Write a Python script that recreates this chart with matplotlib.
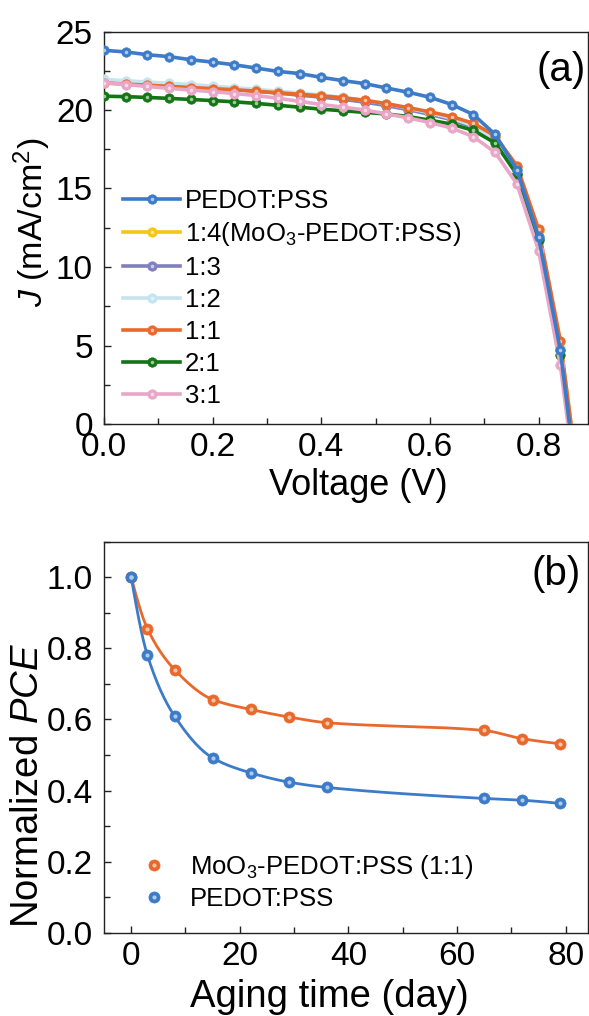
import numpy as np
import matplotlib
matplotlib.use("Agg")
import matplotlib.pyplot as plt
from matplotlib.ticker import MultipleLocator
from matplotlib.legend_handler import HandlerTuple

plt.rcParams['font.family'] = ['Liberation Sans', 'DejaVu Sans']
plt.rcParams['mathtext.fontset'] = 'custom'
plt.rcParams['mathtext.rm'] = 'Liberation Sans'
plt.rcParams['mathtext.it'] = 'Liberation Sans:italic'
plt.rcParams['mathtext.bf'] = 'Liberation Sans:bold'

# ---------------- data (a) ----------------
voltage = [0.00, 0.04, 0.08, 0.12, 0.16, 0.20, 0.24, 0.28, 0.32, 0.36, 0.40, 0.44,
           0.48, 0.52, 0.56, 0.60, 0.64, 0.68, 0.72, 0.76, 0.80, 0.84, 0.88]
j_pedot = [23.80, 23.70, 23.52, 23.40, 23.20, 23.05, 22.88, 22.67, 22.46, 22.32, 22.08, 21.87,
           21.68, 21.40, 21.13, 20.81, 20.35, 19.71, 18.44, 16.20, 11.90, 4.70, -6.5]
j_14 = [21.80, 21.72, 21.64, 21.56, 21.48, 21.39, 21.30, 21.20, 21.08, 20.96, 20.84, 20.70,
        20.54, 20.32, 20.08, 19.80, 19.48, 19.02, 18.20, 16.30, 12.30, 5.20, -5.3]
j_13 = [21.85, 21.77, 21.68, 21.60, 21.50, 21.40, 21.30, 21.20, 21.08, 20.95, 20.82, 20.68,
        20.50, 20.28, 20.02, 19.72, 19.38, 18.90, 18.00, 15.90, 11.80, 4.70, -6.2]
j_12 = [21.95, 21.86, 21.78, 21.70, 21.62, 21.52, 21.42, 21.32, 21.20, 21.08, 20.95, 20.80,
        20.62, 20.40, 20.12, 19.82, 19.48, 19.00, 18.10, 16.10, 12.00, 4.90, -6.0]
j_11 = [21.72, 21.65, 21.58, 21.50, 21.43, 21.36, 21.29, 21.20, 21.10, 21.00, 20.90, 20.78,
        20.62, 20.40, 20.15, 19.88, 19.58, 19.15, 18.35, 16.45, 12.40, 5.30, -5.5]
j_21 = [20.88, 20.85, 20.80, 20.74, 20.67, 20.60, 20.52, 20.42, 20.30, 20.18, 20.05, 19.95,
        19.85, 19.75, 19.58, 19.35, 19.10, 18.70, 17.90, 15.90, 11.70, 4.40, -6.5]
j_31 = [21.75, 21.62, 21.50, 21.38, 21.27, 21.17, 21.05, 20.92, 20.75, 20.55, 20.35, 20.18,
        20.00, 19.75, 19.50, 19.20, 18.85, 18.30, 17.30, 15.30, 11.05, 3.75, -7.0]

labels_a = ['PEDOT:PSS', r'1:4(MoO$_3$-PEDOT:PSS)', '1:3', '1:2', '1:1', '2:1', '3:1']
series_a = [j_pedot, j_14, j_13, j_12, j_11, j_21, j_31]
colors_a = ['#3C7BC8', '#F5C518', '#8080C0', '#C4E4F0', '#E9692C', '#137513', '#EAA6C6']
zorders_a = [10, 3, 4, 5, 6, 7, 8]

# ---------------- data (b) ----------------
days = [0, 3, 8, 15, 22, 29, 36, 65, 72, 79]
pce_moo3 = [1.0, 0.855, 0.740, 0.656, 0.628, 0.607, 0.591, 0.569, 0.546, 0.532]
pce_pedot = [1.0, 0.780, 0.609, 0.492, 0.450, 0.424, 0.409, 0.378, 0.373, 0.364]
labels_b = [r'MoO$_3$-PEDOT:PSS (1:1)', 'PEDOT:PSS']
colors_b = ['#E9692C', '#3C7BC8']


def lighten(c, f=0.55):
    rgb = np.array(matplotlib.colors.to_rgb(c))
    return tuple(rgb + (1 - rgb) * f)


def pchip(x, y, xn):
    x = np.asarray(x, float); y = np.asarray(y, float)
    h = np.diff(x); d = np.diff(y) / h
    n = len(x); m = np.zeros(n)
    for k in range(1, n - 1):
        if d[k - 1] * d[k] > 0:
            w1 = 2 * h[k] + h[k - 1]; w2 = h[k] + 2 * h[k - 1]
            m[k] = (w1 + w2) / (w1 / d[k - 1] + w2 / d[k])
    m0 = ((2 * h[0] + h[1]) * d[0] - h[0] * d[1]) / (h[0] + h[1])
    if np.sign(m0) != np.sign(d[0]):
        m0 = 0
    m[0] = m0
    me = ((2 * h[-1] + h[-2]) * d[-1] - h[-1] * d[-2]) / (h[-1] + h[-2])
    if np.sign(me) != np.sign(d[-1]):
        me = 0
    m[-1] = me
    idx = np.clip(np.searchsorted(x, xn) - 1, 0, n - 2)
    t = (xn - x[idx]) / h[idx]
    h00 = 2 * t**3 - 3 * t**2 + 1; h10 = t**3 - 2 * t**2 + t
    h01 = -2 * t**3 + 3 * t**2; h11 = t**3 - t**2
    return h00 * y[idx] + h10 * h[idx] * m[idx] + h01 * y[idx + 1] + h11 * h[idx] * m[idx + 1]


W, H = 589, 1016
fig = plt.figure(figsize=(W / 100, H / 100), dpi=100)

TICK_FS = 24
LEG_FS = 18.5
PANEL_FS = 29


def style_axes(ax):
    for s in ax.spines.values():
        s.set_linewidth(1.0)
        s.set_color('#222222')
    ax.tick_params(which='both', direction='in', top=False, right=False,
                   labelsize=TICK_FS, width=1.0, color='#222222')
    ax.tick_params(axis='x', pad=6)
    ax.tick_params(axis='y', pad=8)
    ax.tick_params(which='major', length=5)
    ax.tick_params(which='minor', length=4)


# ---------------- panel (a) ----------------
ax1 = fig.add_axes([104 / W, 592 / H, 483.5 / W, 392.5 / H])
handles = []
for ys, lab, c, z in zip(series_a, labels_a, colors_a, zorders_a):
    ln, = ax1.plot(voltage, ys, '-o', color=c, lw=2.6, ms=6.8, mec=c, mew=0.5,
                   zorder=z, clip_on=True)
    hl, = ax1.plot(voltage, ys, 'o', color=lighten(c, 0.6), ms=2.6, mew=0,
                   zorder=z + 0.5)
    handles.append((ln, hl))
ax1.set_xlim(0, 0.89)
ax1.set_ylim(0, 25)
ax1.xaxis.set_major_locator(MultipleLocator(0.2))
ax1.xaxis.set_minor_locator(MultipleLocator(0.1))
ax1.yaxis.set_major_locator(MultipleLocator(5))
ax1.yaxis.set_minor_locator(MultipleLocator(2.5))
ax1.xaxis.set_major_formatter(matplotlib.ticker.FormatStrFormatter('%.1f'))
style_axes(ax1)
ax1.set_xlabel('Voltage (V)', fontsize=26)
ax1.xaxis.set_label_coords(0.525, -0.113)
ax1.set_ylabel(r'$\mathit{J}$ (mA/cm$^2$)', fontsize=24.5)
ax1.yaxis.set_label_coords(-0.105, 0.515)
ax1.text(0.946, 0.902, '(a)', transform=ax1.transAxes, fontsize=PANEL_FS,
         ha='center', va='center')
ax1.legend(handles, labels_a, handler_map={tuple: HandlerTuple(ndivide=1)},
           loc='upper left', bbox_to_anchor=(0.04, 0.60), frameon=False,
           fontsize=LEG_FS, handlelength=2.2, handletextpad=0.2,
           labelspacing=0.31, borderpad=0, borderaxespad=0, numpoints=1)

# ---------------- panel (b) ----------------
ax2 = fig.add_axes([104 / W, 83 / H, 483.5 / W, 391.5 / H])
hb = []
for ys, lab, c in zip([pce_moo3, pce_pedot], labels_b, colors_b):
    xs = np.linspace(days[0], days[-1], 400)
    ax2.plot(xs, pchip(days, ys, xs), '-', color=c, lw=2.0, zorder=3)
    mk, = ax2.plot(days, ys, 'o', color=c, ms=8, mec=c, mew=0.5, zorder=4)
    hl, = ax2.plot(days, ys, 'o', color=lighten(c, 0.6), ms=3, mew=0, zorder=5)
    hb.append((mk, hl))
ax2.set_xlim(-5, 84)
ax2.set_ylim(0, 1.1)
ax2.xaxis.set_major_locator(MultipleLocator(20))
ax2.xaxis.set_minor_locator(MultipleLocator(10))
ax2.yaxis.set_major_locator(MultipleLocator(0.2))
ax2.yaxis.set_minor_locator(MultipleLocator(0.1))
ax2.yaxis.set_major_formatter(matplotlib.ticker.FormatStrFormatter('%.1f'))
style_axes(ax2)
ax2.set_xlabel('Aging time (day)', fontsize=27.5)
ax2.xaxis.set_label_coords(0.467, -0.118)
ax2.set_ylabel(r'Normalized $\mathit{PCE}$', fontsize=27.5)
ax2.yaxis.set_label_coords(-0.12, 0.378)
ax2.text(0.935, 0.917, '(b)', transform=ax2.transAxes, fontsize=PANEL_FS,
         ha='center', va='center')
ax2.legend(hb, labels_b, handler_map={tuple: HandlerTuple(ndivide=1)},
           loc='upper left', bbox_to_anchor=(0.06, 0.205), frameon=False,
           fontsize=LEG_FS, handlelength=1.6, handletextpad=0.6,
           labelspacing=0.25, borderpad=0, borderaxespad=0, numpoints=1)

fig.savefig('out.png', dpi=100)
